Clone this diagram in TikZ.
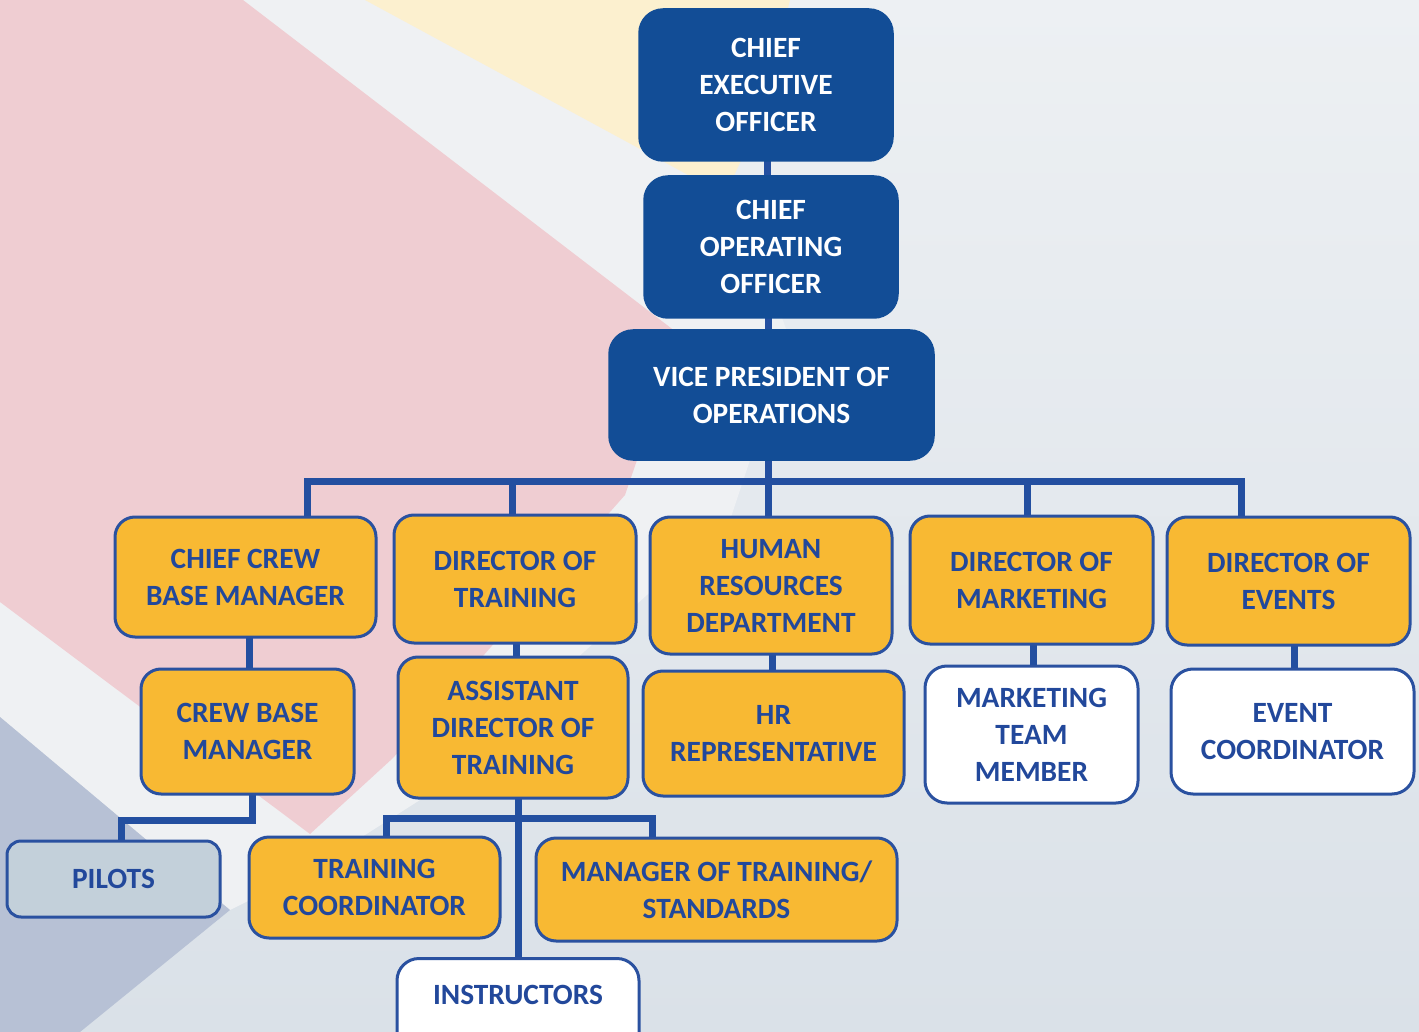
\documentclass[tikz,border=0pt]{standalone}
\usepackage{fontspec}
\setmainfont{Carlito}
\usetikzlibrary{calc}
\definecolor{dkblue}{HTML}{124D96}
\definecolor{orfill}{HTML}{F8B933}
\definecolor{bdblue}{HTML}{2A51A0}
\definecolor{txblue}{HTML}{22489B}
\definecolor{pilfill}{HTML}{C3D0DA}
\definecolor{conn}{HTML}{234FA0}
\definecolor{bgtop}{HTML}{EDF0F3}
\definecolor{bgbot}{HTML}{DAE1E8}
\definecolor{bandc}{HTML}{EFF1F3}
\definecolor{pinkc}{HTML}{EFCDD2}
\definecolor{yelc}{HTML}{FCF0CF}
\definecolor{bluec}{HTML}{B7C1D5}
\pgfdeclarelayer{back}
\pgfdeclarelayer{connlayer}
\pgfsetlayers{back,connlayer,main}
\tikzset{
  basebox/.style={rectangle, align=center, inner sep=2pt,
    font=\fontsize{29.4}{37}\selectfont\bfseries},
  darkbox/.style={basebox, fill=dkblue, draw=dkblue, line width=1.5pt,
    rounded corners=24pt, text=white},
  orbox/.style={basebox, fill=orfill, draw=bdblue, line width=3pt,
    rounded corners=20pt, text=txblue},
  whbox/.style={basebox, fill=white, draw=bdblue, line width=3pt,
    rounded corners=22pt, text=txblue},
  pilbox/.style={basebox, fill=pilfill, draw=bdblue, line width=3pt,
    rounded corners=14pt, text=txblue},
  link/.style={draw=conn, line width=7pt, line join=miter, line cap=rect}
}
\begin{document}
\begin{tikzpicture}[x=1pt,y=-1pt]
\useasboundingbox (0,0) rectangle (1419,1032);
\begin{pgfonlayer}{back}
  \shade[top color=bgtop, bottom color=bgbot] (0,0) rectangle (1419,1032);
  \fill[bandc] (225,0) -- (380,0) -- (740,200) -- (790,340) -- (730,520)
     -- (420,800) -- (310,870) -- (230,910) -- (0,717) -- (0,585) -- cycle;
  \fill[yelc] (365,0) -- (790,0) -- (760,120) -- (725,195) -- cycle;
  \fill[pinkc] (0,0) -- (243,0) -- (680,335) -- (625,495) -- (393,758)
     -- (310,834) -- (0,602) -- cycle;
  \fill[bluec] (0,717) -- (230,910) -- (80,1032) -- (0,1032) -- cycle;
\end{pgfonlayer}

\node[darkbox, minimum width=254, minimum height=152] (ceo) at (766,85)
  {CHIEF\\EXECUTIVE\\OFFICER};
\node[darkbox, minimum width=254, minimum height=142] (coo) at (771,247)
  {CHIEF\\OPERATING\\OFFICER};
\node[darkbox, minimum width=325, minimum height=130] (vp) at (771.5,395)
  {VICE PRESIDENT OF\\OPERATIONS};

\node[orbox, minimum width=261, minimum height=120] (ccbm) at (245.5,577)
  {CHIEF CREW\\BASE MANAGER};
\node[orbox, minimum width=242, minimum height=128] (dot) at (515,579)
  {DIRECTOR OF\\TRAINING};
\node[orbox, minimum width=242, minimum height=137] (hrd) at (771,585.5)
  {HUMAN\\RESOURCES\\DEPARTMENT};
\node[orbox, minimum width=243, minimum height=128] (dom) at (1031.5,580)
  {DIRECTOR OF\\MARKETING};
\node[orbox, minimum width=243, minimum height=128] (doe) at (1288.5,581)
  {DIRECTOR OF\\EVENTS};

\node[orbox, minimum width=213, minimum height=125] (cbm) at (247.5,731.5)
  {CREW BASE\\MANAGER};
\node[orbox, minimum width=230, minimum height=141] (adt) at (513,727.5)
  {ASSISTANT\\DIRECTOR OF\\TRAINING};
\node[orbox, minimum width=261, minimum height=125] (hrr) at (773.5,733.5)
  {HR\\REPRESENTATIVE};
\node[whbox, minimum width=213, minimum height=137] (mtm) at (1031.5,734.5)
  {MARKETING\\TEAM\\MEMBER};
\node[whbox, minimum width=243, minimum height=125] (ec) at (1292.5,731.5)
  {EVENT\\COORDINATOR};

\node[pilbox, minimum width=213, minimum height=76] (pil) at (113.5,879)
  {PILOTS};
\node[orbox, minimum width=251, minimum height=101] (tc) at (374.5,887.5)
  {TRAINING\\COORDINATOR};
\node[orbox, minimum width=361, minimum height=103] (mot) at (716.5,889.5)
  {MANAGER OF TRAINING/\\STANDARDS};
\node[whbox, minimum width=242, minimum height=110, anchor=north,
  text height=19pt, text depth=38pt] (ins) at (518,957)
  {INSTRUCTORS};

\coordinate (busL) at (307,481);
\coordinate (busR) at (1241,481);
\coordinate (pk) at (121,820);
\coordinate (tbL) at (386,818);
\coordinate (tbR) at (652,818);

\begin{pgfonlayer}{connlayer}
  \path[link] ([xshift=1]ceo.south) -- ([xshift=1]ceo.south |- coo.north);
  \path[link] ([xshift=-3]coo.south) -- ([xshift=-3]coo.south |- vp.north);
  \path[link] ([xshift=-3.5]vp.south) -- ([xshift=-3.5]vp.south |- busL);
  \path[link] (ccbm.north -| busL) -- (busL) -- (busR) -- (busR |- doe.north);
  \path[link] ([xshift=-3]dot.north) -- ([xshift=-3]dot.north |- busL);
  \path[link] ([xshift=-3]hrd.north) -- ([xshift=-3]hrd.north |- busL);
  \path[link] ([xshift=-4.5]dom.north) -- ([xshift=-4.5]dom.north |- busL);

  \path[link] ([xshift=3.5]ccbm.south) -- ([xshift=3.5]ccbm.south |- cbm.north);
  \path[link] ([xshift=1]dot.south) -- ([xshift=1]dot.south |- adt.north);
  \path[link] ([xshift=1]hrd.south) -- ([xshift=1]hrd.south |- hrr.north);
  \path[link] ([xshift=1.5]dom.south) -- ([xshift=1.5]dom.south |- mtm.north);
  \path[link] ([xshift=5.5]doe.south) -- ([xshift=5.5]doe.south |- ec.north);

  \path[link] ([xshift=4.5]cbm.south) |- (pk) -- (pil.north -| pk);
  \path[link] ([xshift=5]adt.south) -- (ins.north);
  \path[link] (tc.north -| tbL) -- (tbL) -- (tbR) -- (tbR |- mot.north);
\end{pgfonlayer}
\end{tikzpicture}
\end{document}
